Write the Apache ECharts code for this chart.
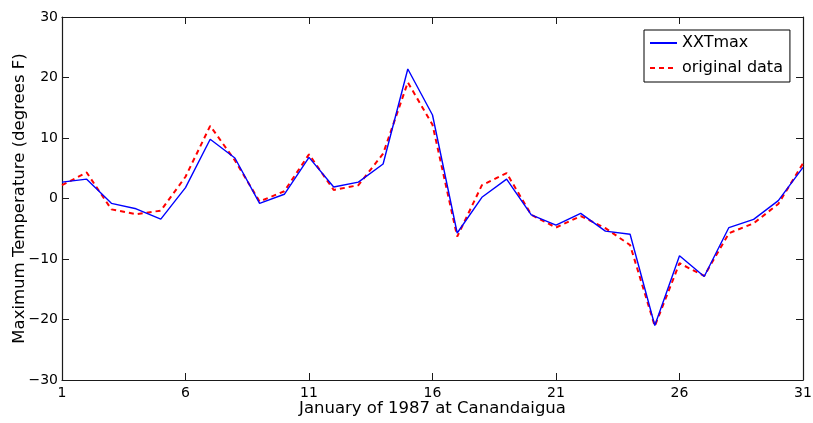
<!DOCTYPE html>
<html>
<head>
<meta charset="utf-8">
<script src="https://cdn.jsdelivr.net/npm/echarts@6/dist/echarts.min.js"></script>
<style>
html,body{margin:0;padding:0;background:#fff;}
#chart{width:813px;height:423px;}
</style>
</head>
<body>
<div id="chart"></div>
<script>
var days = [1,2,3,4,5,6,7,8,9,10,11,12,13,14,15,16,17,18,19,20,21,22,23,24,25,26,27,28,29,30,31];
var xxtmax = [2.7,3.2,-0.8,-1.7,-3.4,1.8,9.8,6.7,-0.8,0.7,6.8,1.9,2.7,5.7,21.4,13.8,-5.7,0.2,3.2,-2.7,-4.4,-2.45,-5.4,-5.9,-21.0,-9.45,-12.9,-4.8,-3.45,-0.35,5.15];
var original = [2.2,4.3,-1.8,-2.6,-2.0,3.6,12.0,6.3,-0.5,1.2,7.3,1.4,2.2,7.4,19.2,12.2,-6.3,2.2,4.2,-2.7,-4.8,-2.9,-4.9,-7.7,-21.1,-10.7,-12.8,-5.75,-4.1,-0.9,5.8];
var xTicks = [1,6,11,16,21,26,31];
var yTicks = [-30,-20,-10,0,10,20,30];
var seriesNames = ['XXTmax','original data'];
var xTitle = 'January of 1987 at Canandaigua';
var yTitle = 'Maximum Temperature (degrees F)';

function pairs(v){ return days.map(function(d,i){ return [d, v[i]]; }); }

var font = '"DejaVu Sans", Verdana, sans-serif';
var axisColor = '#1a1a1a';
var chart = echarts.init(document.getElementById('chart'), null, {renderer:'canvas'});
var baseX = {
  type:'value', min:1, max:31, interval:5,
  axisLine:{show:true, onZero:false, lineStyle:{color:axisColor, width:1.2}},
  axisTick:{show:true, inside:true, length:7, lineStyle:{color:axisColor}},
  splitLine:{show:false}
};
var baseY = {
  type:'value', min:-30, max:30, interval:10,
  axisLine:{show:true, onZero:false, lineStyle:{color:axisColor, width:1.2}},
  axisTick:{show:true, inside:true, length:7, lineStyle:{color:axisColor}},
  splitLine:{show:false}
};
chart.setOption({
  animation:false,
  backgroundColor:'#fff',
  grid:{left:62, right:10, top:17, bottom:43, containLabel:false, outerBoundsMode:'none'},
  legend:{
    orient:'vertical', left:644, top:30,
    data:seriesNames,
    itemWidth:27, itemHeight:16, itemGap:9,
    borderColor:'#000', borderWidth:1, padding:[5,7,6,5],
    backgroundColor:'#fff',
    itemStyle:{opacity:0},
    textStyle:{fontFamily:font, fontSize:16, color:'#000'}
  },
  xAxis:[
    Object.assign({}, baseX, {
      position:'bottom',
      axisLabel:{show:true, color:'#000', fontFamily:font, fontSize:14, margin:6,
        formatter:function(v){ return xTicks.indexOf(v)>=0 ? String(v) : ''; }},
      name:xTitle, nameLocation:'middle', nameGap:20, nameMoveOverlap:false,
      nameTextStyle:{fontFamily:font, fontSize:16.5, color:'#000'}
    }),
    Object.assign({}, baseX, {position:'top', axisLabel:{show:false}})
  ],
  yAxis:[
    Object.assign({}, baseY, {
      position:'left',
      axisLabel:{show:true, color:'#000', fontFamily:font, fontSize:14, margin:4,
        formatter:function(v){ return v<0 ? '\u2212'+Math.abs(v) : String(v); }},
      name:yTitle, nameLocation:'middle', nameGap:34, nameMoveOverlap:false,
      nameTextStyle:{fontFamily:font, fontSize:16.5, color:'#000'}
    }),
    Object.assign({}, baseY, {position:'right', axisLabel:{show:false}})
  ],
  series:[
    {name:seriesNames[0], type:'line', data:pairs(xxtmax), showSymbol:false, symbol:'none',
     lineStyle:{color:'#0000ff', width:1.4}, itemStyle:{color:'#0000ff'}, z:3},
    {name:seriesNames[1], type:'line', data:pairs(original), showSymbol:false, symbol:'none',
     lineStyle:{color:'#ff0000', width:2, type:[5,4]}, itemStyle:{color:'#ff0000'}, z:2}
  ]
});
</script>
</body>
</html>
